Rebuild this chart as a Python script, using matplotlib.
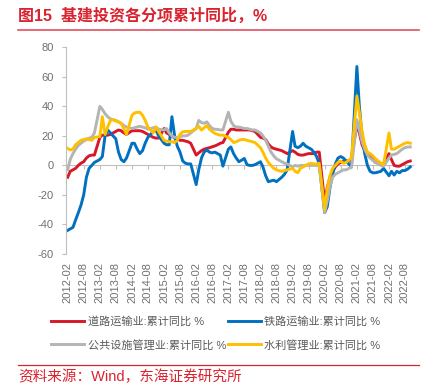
import pandas as pd
import matplotlib
matplotlib.use("Agg")
import matplotlib.pyplot as plt
import matplotlib.dates as mdates
from matplotlib.lines import Line2D

plt.rcParams["font.family"] = ["Liberation Sans", "Noto Sans CJK SC", "DejaVu Sans"]
plt.rcParams["axes.unicode_minus"] = False

# 月度数据（1月与2月合并发布，无1月数据）：2012-02 ~ 2022-10
months = [d for d in pd.date_range("2012-02-01", "2022-10-01", freq="MS") if d.month != 1]

road = [  # 道路运输业:累计同比 %
    -8, -4, -3, -2, 0, 1.5, 2.5, 5, 6.5, 7, 7,
    19, 20.5, 20.5, 20.5, 21, 22, 23, 24, 23.5, 22, 21,
    23.5, 23.5, 23.5, 23.5, 23, 22, 21, 20, 19, 18.5, 18.5,
    25, 22, 21, 20, 18.5, 18, 17, 17, 16.5, 16, 15,
    7, 8.5, 10, 11, 11.5, 12, 12.6, 13.2, 14, 15, 15.5,
    22.5, 24.5, 24.5, 24, 24, 24, 24, 24, 24, 23.5, 23,
    19, 18.5, 17.5, 14.5, 12.5, 11.5, 11, 10.5, 10, 9, 8,
    10, 9, 7.5, 7, 7, 7.5, 8, 8, 8, 9, 9,
    -25, -15, -8, -4, -1, 1, 2, 3, 3, 3, 4,
    28, 22, 14, 10, 8, 6, 4, 2, 2, 1, 1,
    8, 4, 0, -0.5, -0.5, 0.5, 1.5, 2.5, 3,
]
rail = [  # 铁路运输业:累计同比 %
    -44, -43, -42, -37, -32, -27, -20, -8, -2, 0, 2,
    4, 6, 20, 24, 22, 20, 18, 9, 4, 2.5, 5,
    15, 15, 11, 8, 10, 15, 19, 21, 23, 24, 20,
    15, 14, 14, 33, 20, 13, 9, 3, 1.5, 1, 1,
    -13, -3, 5, 9, 10.5, 9, 8.5, 9, 8, 7, -0.5,
    11, 12.5, 8, 5, 2.5, 3.5, 4.7, 0.5, 0, 0, 0.5,
    2.5, -1, -7, -11, -10.5, -10, -11, -9.5, -8, -6, -3,
    23, 13, 12, 13, 15, 13, 12, 11, 9, 6, 1,
    -32, -28, -15, -6, 1, 5, 6, 5, 3, 1, -1,
    67, 40, 20, 8, 0, -4, -5, -5, -4.5, -4, -2,
    -7, -4, -6.5, -4, -5, -3.5, -3.5, -2.5, -1,
]
utility = [  # 公共设施管理业:累计同比 %
    -3, 4, 8, 11, 13.5, 15, 16.5, 17.5, 18.5, 19, 22,
    40, 38, 35, 33, 31.5, 31, 30.5, 29.5, 28.5, 27, 26,
    25, 25.5, 26, 26.5, 26, 25.5, 24.5, 25, 25.5, 26, 24.5,
    24, 25, 22, 20, 19, 19, 19.5, 20, 20, 20.5, 22,
    25, 30.5, 29, 28.5, 29.5, 27, 25, 24.5, 24.4, 24, 24,
    36, 30, 27, 26, 26, 25.5, 25, 25, 24.5, 24, 24,
    22, 20, 17, 13, 9, 6.5, 4.5, 3.5, 2.5, 1.5, 1,
    -1, 0, -0.5, 0, 0, 0, 0, 0, 0, 0, -0.5,
    -32, -24, -14, -8, -6, -5, -4, -3, -3, -2, -1.5,
    31, 24, 16, 11, 7, 5, 3.5, 2, 1, 0, -0.5,
    5, 7, 7.5, 8, 9.5, 11, 12, 12.5, 12.5,
]
water = [  # 水利管理业:累计同比 %
    11.5, 10.5, 11, 14, 15.5, 17, 17.5, 18, 17.5, 17, 19,
    19.5, 33, 21, 26, 30.5, 31, 30, 29.5, 28.5, 25, 21,
    34, 35.5, 36, 36, 34, 30.5, 26, 24, 22, 26, 23,
    17, 16.5, 16, 16, 15.5, 17, 21, 22.8, 23, 23, 23,
    25, 26.5, 24, 25.5, 27, 24.5, 23, 21.7, 21, 20.5, 20.5,
    19, 17.5, 15.5, 16, 17, 17.5, 17.5, 17, 16.5, 16, 15.5,
    12, 9, 5, 2, 0, -2, -3, -3.6, -4, -3.5, -3,
    -2, -4, -5, -2, -1, 0, 1, 1.4, 1, 1, 1.4,
    -30, -16, -7, -2, 0, 2, 3, 1.5, 2, 3.5, 5,
    47, 36, 23, 14, 9, 8, 6.5, 4.5, 3, 1.5, 0.5,
    22, 11, 11, 12, 13, 14, 15, 15.5, 15,
]

names = ["道路运输业:累计同比 %", "铁路运输业:累计同比 %",
         "公共设施管理业:累计同比 %", "水利管理业:累计同比 %"]
colors = ["#D7182A", "#0070C0", "#B4B4B4", "#FFC000"]
tick_labels = [f"{y}-{m}" for y in range(2012, 2023) for m in ("02", "08")]

x = mdates.date2num(months)
ticks = mdates.date2num(pd.to_datetime(tick_labels))

W, H = 442, 390
fig = plt.figure(figsize=(W / 100, H / 100), dpi=100)
ax = fig.add_axes([66 / W, 1 - 254 / H, (413 - 66) / W, (254 - 47.3) / H])

lines = []
for s, c, n in zip([road, rail, utility, water], colors, names):
    lines += ax.plot(x, s, color=c, lw=2.1, label=n, solid_joinstyle="round")

ax.set_ylim(-60, 80)
ax.set_yticks(range(-60, 81, 20))
ax.set_xlim(mdates.date2num(pd.Timestamp("2012-01-13")),
            mdates.date2num(pd.Timestamp("2022-11-01")))
ax.set_xticks(ticks)
ax.set_xticklabels(tick_labels, rotation=90)

grey = "#BFBFBF"
for side in ("top", "right", "bottom"):
    ax.spines[side].set_visible(False)
ax.spines["left"].set_color(grey)
ax.spines["left"].set_linewidth(0.8)
ax.tick_params(axis="y", colors=grey, labelcolor="#707070", labelsize=8,
               length=3, width=0.8, pad=6)
ax.tick_params(axis="x", length=0, labelcolor="#707070", labelsize=8, pad=6)

# 0 轴线与刻度
zero = ax.secondary_xaxis(60 / 140)
zero.set_xticks(ticks)
zero.set_xticklabels([])
zero.spines["bottom"].set_color(grey)
zero.spines["bottom"].set_linewidth(0.8)
zero.tick_params(axis="x", colors=grey, length=3, width=0.8, direction="out")

# 图例按行排列：matplotlib 按列填充，所以调整顺序
order = [0, 2, 1, 3]
fig.legend([lines[i] for i in order], [names[i] for i in order], ncol=2,
           loc="upper left", bbox_to_anchor=(51 / W, 1 - 316 / H), frameon=False,
           fontsize=8, handlelength=3.0, handletextpad=0.3, columnspacing=0.15,
           labelspacing=1.15, borderpad=0, borderaxespad=0, labelcolor="#595959")

red = "#D9232F"
fig.text(18 / W, 1 - 16 / H, "图15  基建投资各分项累计同比，%", fontsize=11.5,
         fontweight="bold", color=red, va="center", ha="left")
fig.add_artist(Line2D([18 / W, 419 / W], [1 - 29.5 / H] * 2, color="#E0505F", lw=1.2))
fig.add_artist(Line2D([18 / W, 419 / W], [1 - 365 / H] * 2, color=red, lw=0.9))
fig.text(18 / W, 1 - 377 / H, "资料来源：Wind，东海证券研究所", fontsize=10.5,
         color=red, va="center", ha="left")

fig.savefig("out.png", dpi=100)
